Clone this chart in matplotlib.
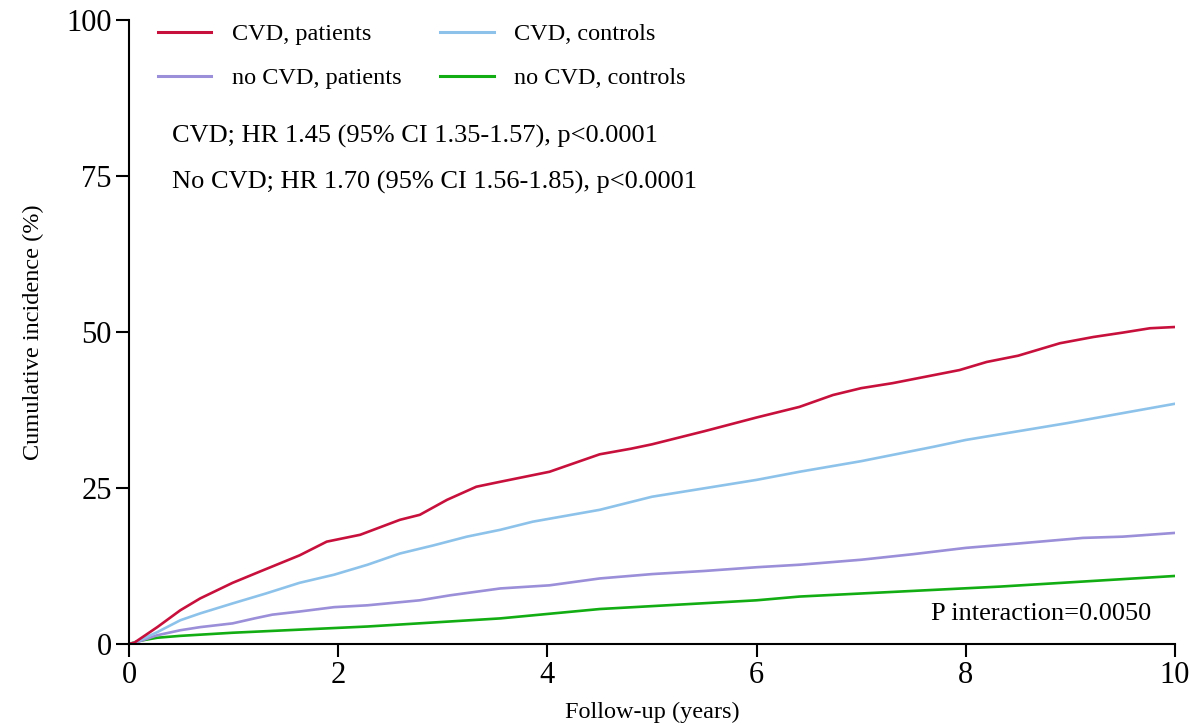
import matplotlib
matplotlib.use('Agg')
import matplotlib.pyplot as plt
from matplotlib.lines import Line2D

plt.rcParams['font.family'] = ['Liberation Serif', 'DejaVu Serif']

# cumulative incidence (%) by follow-up year
cvd_pat_x = [0, 0.05, 0.27, 0.49, 0.68, 0.99, 1.25, 1.63, 1.89, 2.21, 2.59, 2.78, 3.04, 3.32,
             3.55, 4.02, 4.5, 4.8, 5.0, 5.5, 6.0, 6.41, 6.73, 7.0, 7.3, 7.94, 8.2, 8.5,
             8.9, 9.22, 9.5, 9.76, 10.0]
cvd_pat_y = [0, 0.2, 2.7, 5.4, 7.3, 9.8, 11.6, 14.2, 16.4, 17.5, 19.9, 20.7, 23.1, 25.2,
             26.0, 27.6, 30.4, 31.3, 32.0, 34.1, 36.3, 38.0, 39.9, 41.0, 41.8, 43.9, 45.2, 46.2,
             48.2, 49.2, 49.9, 50.6, 50.8]

cvd_ctl_x = [0, 0.05, 0.27, 0.49, 0.68, 0.99, 1.31, 1.63, 1.96, 2.28, 2.59, 2.91, 3.23, 3.55,
             3.86, 4.5, 5.0, 6.0, 6.41, 7.0, 7.69, 8.0, 8.97, 9.5, 10.0]
cvd_ctl_y = [0, 0.2, 1.9, 3.8, 4.9, 6.5, 8.1, 9.8, 11.1, 12.7, 14.5, 15.8, 17.2, 18.3,
             19.6, 21.5, 23.6, 26.3, 27.6, 29.3, 31.6, 32.7, 35.4, 37.0, 38.5]

nocvd_pat_x = [0, 0.05, 0.27, 0.49, 0.68, 0.99, 1.2, 1.37, 1.63, 1.96, 2.28, 2.78, 3.07, 3.55,
               4.02, 4.5, 5.0, 5.5, 6.0, 6.41, 7.0, 7.5, 8.0, 8.5, 9.12, 9.5, 10.0]
nocvd_pat_y = [0, 0.15, 1.4, 2.2, 2.7, 3.3, 4.1, 4.7, 5.2, 5.9, 6.2, 7.0, 7.8, 8.9,
               9.4, 10.5, 11.2, 11.7, 12.3, 12.7, 13.5, 14.4, 15.4, 16.1, 17.0, 17.2, 17.8]

nocvd_ctl_x = [0, 0.1, 0.27, 0.49, 0.99, 2.28, 3.55, 4.5, 6.0, 6.41, 8.33, 10.0]
nocvd_ctl_y = [0, 0.5, 1.0, 1.3, 1.8, 2.8, 4.1, 5.6, 7.0, 7.6, 9.2, 10.9]

labels = ['CVD, patients', 'no CVD, patients', 'CVD, controls', 'no CVD, controls']
colors = ['#C8103C', '#9A8FD8', '#8DC3EA', '#12AD12']
x_ticks = [0, 2, 4, 6, 8, 10]
y_ticks = [0, 25, 50, 75, 100]

fig = plt.figure(figsize=(11.97, 7.23), dpi=100)
ax = fig.add_axes([0.1078, 0.1093, 0.8738, 0.863])

ax.plot(nocvd_ctl_x, nocvd_ctl_y, color=colors[3], lw=1.9)
ax.plot(nocvd_pat_x, nocvd_pat_y, color=colors[1], lw=1.9)
ax.plot(cvd_ctl_x, cvd_ctl_y, color=colors[2], lw=1.9)
ax.plot(cvd_pat_x, cvd_pat_y, color=colors[0], lw=1.9)

ax.set_xlim(0, 10)
ax.set_ylim(0, 100)
ax.set_xticks(x_ticks)
ax.set_yticks(y_ticks)
ax.tick_params(axis='both', length=9.5, width=1.5, labelsize=22, pad=3, direction='out')
for side in ['top', 'right']:
    ax.spines[side].set_visible(False)
for side in ['left', 'bottom']:
    ax.spines[side].set_linewidth(1.5)

ax.set_xlabel('Follow-up (years)', fontsize=17.5, labelpad=8.5)
ax.set_ylabel('Cumulative incidence (%)', fontsize=17.5, labelpad=16)

handles = [Line2D([], [], color=c, lw=2.2) for c in colors]
ax.legend(handles, labels, ncol=2, loc='upper left', bbox_to_anchor=(0.0065, 1.03),
          frameon=False, fontsize=17.5, handlelength=2.2, handletextpad=0.85,
          columnspacing=1.6, labelspacing=0.9)

ax.text(0.041, 0.814, 'CVD; HR 1.45 (95% CI 1.35-1.57), p<0.0001', transform=ax.transAxes,
        fontsize=19, va='center', ha='left')
ax.text(0.041, 0.739, 'No CVD; HR 1.70 (95% CI 1.56-1.85), p<0.0001', transform=ax.transAxes,
        fontsize=19, va='center', ha='left')
ax.text(0.977, 0.048, 'P interaction=0.0050', transform=ax.transAxes,
        fontsize=19, va='center', ha='right')

fig.savefig('out.png', dpi=100)
